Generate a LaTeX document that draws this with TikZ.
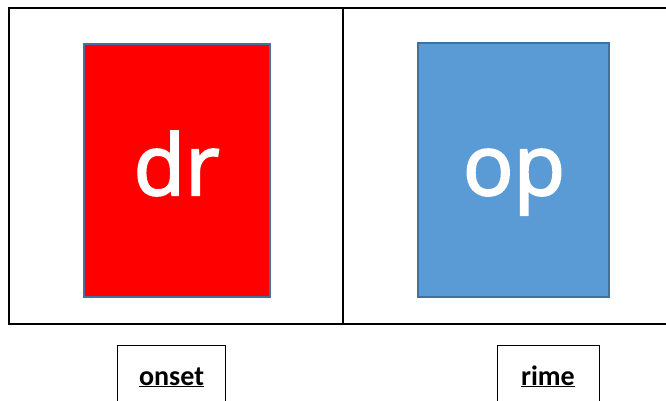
\documentclass[tikz,border=0pt]{standalone}
\usepackage{fontspec}
\setmainfont{Carlito}
\newfontfamily\cardfont[FakeBold=2.5]{Open Sans}
\definecolor{cardred}{HTML}{FF0000}
\definecolor{cardblue}{HTML}{5B9BD5}
\definecolor{cardedge}{HTML}{41719C}
\begin{document}
\begin{tikzpicture}[x=1pt, y=-1pt,
    cell/.style={draw=black, line width=2.5pt, inner sep=0pt},
    card/.style={draw=cardedge, line width=2pt, inner sep=0pt},
    cardtext/.style={anchor=base, inner sep=0pt, text=white, font=\cardfont\fontsize{84}{84}\selectfont},
    tag/.style={draw=black, line width=1pt, inner sep=0pt},
    tagtext/.style={anchor=base, inner sep=0pt, font=\bfseries\fontsize{28}{28}\selectfont}]
    \useasboundingbox (0,0) rectangle (666,400);

    % table
    \node (c1) [cell, minimum width=334pt, minimum height=316pt] at (176,166) {};
    \node (c2) [cell, minimum width=340pt, minimum height=316pt] at (513,166) {};

    % cards
    \node (dr) [card, fill=cardred, minimum width=186pt, minimum height=253pt] at (176.5,170) {};
    \node (drtext) [cardtext] at (176.5,195) {dr};
    \node (op) [card, fill=cardblue, minimum width=191pt, minimum height=254pt] at (513,169.5) {};
    \node (optext) [cardtext] at (514,195) {op};

    % labels
    \node (onset) [tag, minimum width=108pt, minimum height=70pt, anchor=north] at (171.5,345) {};
    \node (onsettext) [tagtext] at (171.5,385) {\underline{onset}};
    \node (rime) [tag, minimum width=102pt, minimum height=70pt, anchor=north] at (548,345) {};
    \node (rimetext) [tagtext] at (548,385) {\underline{rime}};
\end{tikzpicture}
\end{document}
